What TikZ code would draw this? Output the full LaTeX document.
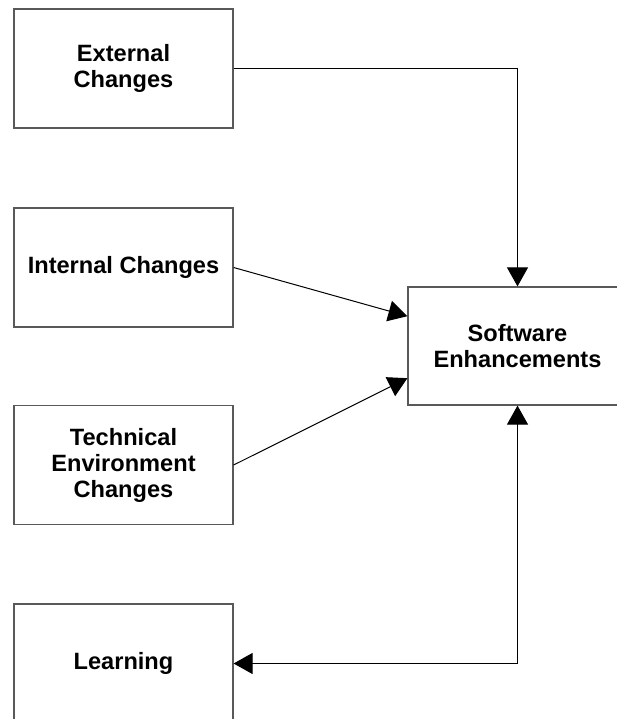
\documentclass[tikz,border=0pt]{standalone}
\usepackage{fontspec}
\setmainfont{Liberation Sans}
\usetikzlibrary{arrows.meta,calc}
\begin{document}
\begin{tikzpicture}[x=1pt,y=-1pt,
  box/.style={draw=black!65, line width=1.2pt, minimum width=219pt, minimum height=119pt,
    inner sep=0pt, align=center, font=\fontsize{23.6}{26}\selectfont\bfseries},
  conn/.style={draw=black, line width=1pt},
  tip/.tip={Triangle[length=19pt,width=21pt]}]
\useasboundingbox (0,0) rectangle (617,719);
\node[box] (ext) at (123.5,68.5) {External\\Changes};
\node[box] (int) at (123.5,267.5) {Internal Changes};
\node[box] (tec) at (123.5,465) {Technical\\Environment\\Changes};
\node[box] (lrn) at (123.5,663.5) {Learning};
\node[box, minimum height=118pt] (sw) at (517.5,346) {Software\\Enhancements};
\coordinate (swA) at ($(sw.north west)!0.25!(sw.south west)$);
\coordinate (swB) at ($(sw.north west)!0.77!(sw.south west)$);
\draw[conn,-tip] (ext.east) -| (sw.north);
\draw[conn,-tip] (int.east) -- (swA);
\draw[conn,-tip] (tec.east) -- (swB);
\draw[conn,tip-tip] (lrn.east) -| (sw.south);
\end{tikzpicture}
\end{document}
